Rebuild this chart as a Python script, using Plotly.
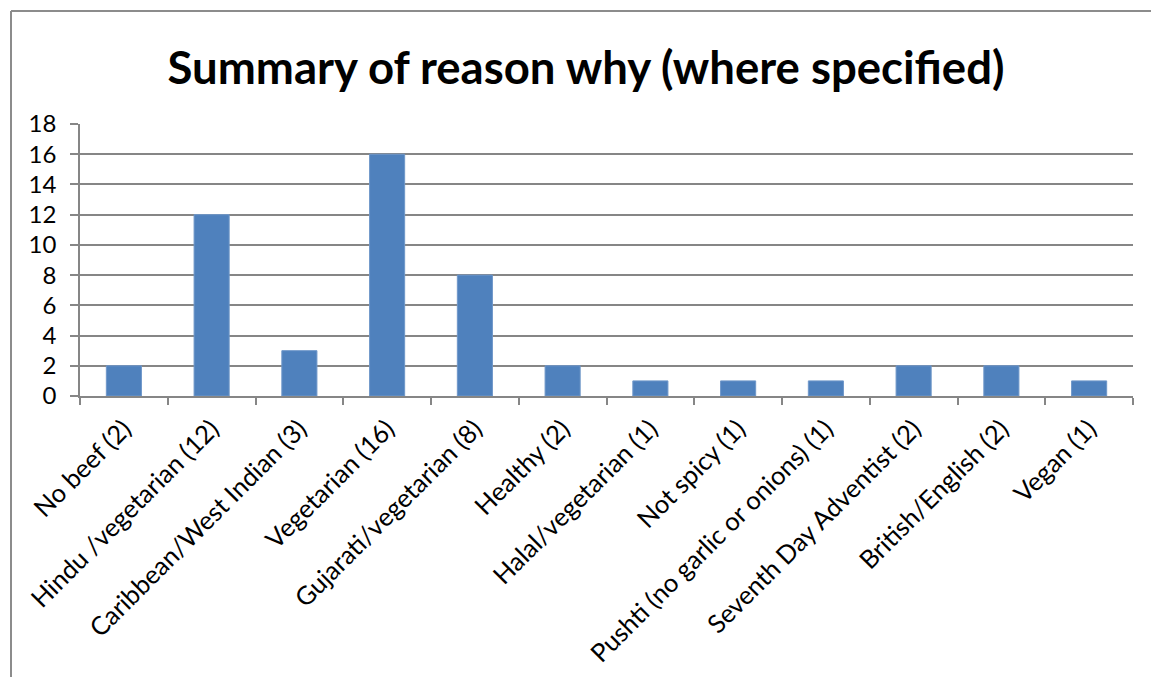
import plotly.graph_objects as go

categories = [
    "No beef (2)",
    "Hindu /vegetarian (12)",
    "Caribbean/West Indian (3)",
    "Vegetarian (16)",
    "Gujarati/vegetarian (8)",
    "Healthy (2)",
    "Halal/vegetarian (1)",
    "Not spicy (1)",
    "Pushti (no garlic or onions) (1)",
    "Seventh Day Adventist (2)",
    "British/English (2)",
    "Vegan (1)",
]
counts = [2, 12, 3, 16, 8, 2, 1, 1, 1, 2, 2, 1]
y_ticks = list(range(0, 19, 2))

W, H = 1151, 677
L, R, T, B = 80, 18, 124, 281
pw, ph = W - L - R, H - T - B

grid = "#868686"
font = "Lato, Open Sans, sans-serif"

fig = go.Figure(
    go.Bar(
        x=categories,
        y=counts,
        marker=dict(color="#4F81BD", line=dict(color="#6f97c9", width=1)),
    )
)

# chart outline (left and top edges)
ox = (11 - L) / pw
oy = (H - B - 11) / ph
fig.add_shape(type="line", xref="paper", yref="paper", x0=ox, x1=ox, y0=oy, y1=-3,
              line=dict(color="#8c8c8c", width=2))
fig.add_shape(type="line", xref="paper", yref="paper", x0=ox, x1=2, y0=oy, y1=oy,
              line=dict(color="#8c8c8c", width=2))

fig.update_layout(
    width=W,
    height=H,
    margin=dict(l=L, r=R, t=T, b=B),
    paper_bgcolor="white",
    plot_bgcolor="white",
    bargap=0.6,
    showlegend=False,
    title=dict(
        text="<b>Summary of reason why (where specified)</b>",
        x=586 / W,
        xanchor="center",
        y=1 - 68 / H,
        yanchor="middle",
        font=dict(family=font, size=45.5, color="black"),
    ),
    xaxis=dict(
        type="category",
        automargin=False,
        tickangle=-45,
        tickson="boundaries",
        ticks="outside",
        ticklen=7,
        tickcolor=grid,
        tickwidth=1.5,
        showline=True,
        linecolor=grid,
        linewidth=1.5,
        showgrid=False,
        ticklabelstandoff=6,
        tickfont=dict(family=font, size=25.5, color="black"),
    ),
    yaxis=dict(
        range=[0, 18],
        automargin=False,
        tickvals=y_ticks,
        ticks="outside",
        ticklen=8,
        tickcolor=grid,
        tickwidth=1.5,
        showline=True,
        linecolor=grid,
        linewidth=1.5,
        showgrid=True,
        gridcolor=grid,
        gridwidth=1.5,
        zeroline=False,
        ticklabelstandoff=9,
        tickfont=dict(family=font, size=24, color="black"),
    ),
)

fig.write_html("out.html")
